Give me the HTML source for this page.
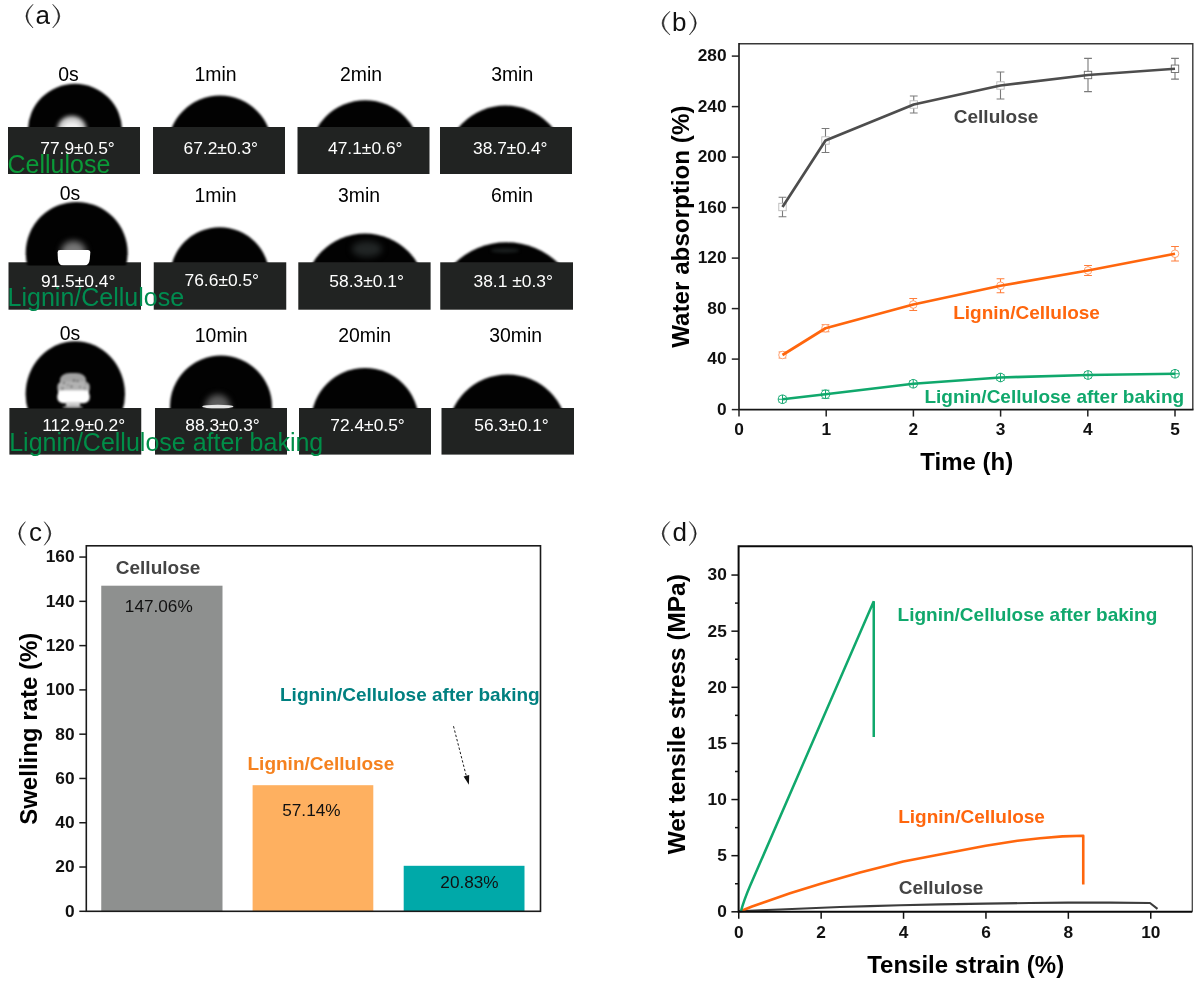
<!DOCTYPE html>
<html><head><meta charset="utf-8"><title>figure</title>
<style>
html,body{margin:0;padding:0;background:#fff;}
body{width:1200px;height:984px;overflow:hidden;font-family:"Liberation Sans",sans-serif;}
svg{display:block;}
text{font-family:"Liberation Sans",sans-serif;}
.b{font-weight:bold;}
.tk{font-weight:bold;font-size:17.3px;fill:#111;}
.ax{font-weight:bold;font-size:24px;fill:#000;}
.tl{font-size:19.4px;fill:#000;}
.vl{font-size:17.4px;fill:#fff;}
.gl{font-size:25px;}
.sl{font-weight:bold;font-size:19px;}
.pl{font-size:26px;fill:#111;}
.bv{font-size:17.2px;fill:#111;}
</style></head><body>
<svg width="1200" height="984" viewBox="0 0 1200 984">
<defs>
<filter color-interpolation-filters="sRGB" id="bl" x="-10%" y="-10%" width="120%" height="120%"><feGaussianBlur stdDeviation="1.0"/></filter>
<filter color-interpolation-filters="sRGB" id="bl06" x="-10%" y="-10%" width="120%" height="120%"><feGaussianBlur stdDeviation="0.6"/></filter>
<filter color-interpolation-filters="sRGB" id="bl1" x="-20%" y="-20%" width="140%" height="140%"><feGaussianBlur stdDeviation="0.9"/></filter>
<filter color-interpolation-filters="sRGB" id="bl25" x="-30%" y="-30%" width="160%" height="160%"><feGaussianBlur stdDeviation="2.3"/></filter>
<filter color-interpolation-filters="sRGB" id="bl2" x="-30%" y="-30%" width="160%" height="160%"><feGaussianBlur stdDeviation="1.6"/></filter>
<filter color-interpolation-filters="sRGB" id="bl3" x="-30%" y="-30%" width="160%" height="160%"><feGaussianBlur stdDeviation="3"/></filter>
<filter color-interpolation-filters="sRGB" id="soft" x="0" y="0" width="1200" height="984" filterUnits="userSpaceOnUse"><feGaussianBlur stdDeviation="0.38"/></filter>
<linearGradient id="hg" x1="0" y1="0" x2="0" y2="1"><stop offset="0" stop-color="#777"/><stop offset="1" stop-color="#fff"/></linearGradient>
</defs>
<rect x="0" y="0" width="1200" height="984" fill="#fff"/>
<g filter="url(#soft)">

<path d="M33,4.3 Q18.80,16.15 33,28 Q21.60,16.15 33,4.3 Z" fill="#1c1c1c" stroke="#1c1c1c" stroke-width="0.5" stroke-linejoin="round"/>
<path d="M52.7,4.3 Q66.90,16.15 52.7,28 Q64.10,16.15 52.7,4.3 Z" fill="#1c1c1c" stroke="#1c1c1c" stroke-width="0.5" stroke-linejoin="round"/>
<text class="pl" x="35.6" y="23.8">a</text>
<path d="M670,11.3 Q654.20,23.15 670,35 Q657.00,23.15 670,11.3 Z" fill="#1c1c1c" stroke="#1c1c1c" stroke-width="0.5" stroke-linejoin="round"/>
<path d="M689.4,11.3 Q703.20,23.15 689.4,35 Q700.40,23.15 689.4,11.3 Z" fill="#1c1c1c" stroke="#1c1c1c" stroke-width="0.5" stroke-linejoin="round"/>
<text class="pl" x="672.0" y="31.2">b</text>
<path d="M25.3,521.7 Q12.30,533.5 25.3,545.3 Q15.10,533.5 25.3,521.7 Z" fill="#1c1c1c" stroke="#1c1c1c" stroke-width="0.5" stroke-linejoin="round"/>
<path d="M44.3,521.7 Q57.30,533.5 44.3,545.3 Q54.50,533.5 44.3,521.7 Z" fill="#1c1c1c" stroke="#1c1c1c" stroke-width="0.5" stroke-linejoin="round"/>
<text class="pl" x="28.9" y="541.0">c</text>
<path d="M669.7,521.5 Q654.70,533.55 669.7,545.6 Q657.50,533.55 669.7,521.5 Z" fill="#1c1c1c" stroke="#1c1c1c" stroke-width="0.5" stroke-linejoin="round"/>
<path d="M689.4,521.5 Q703.00,533.55 689.4,545.6 Q700.20,533.55 689.4,521.5 Z" fill="#1c1c1c" stroke="#1c1c1c" stroke-width="0.5" stroke-linejoin="round"/>
<text class="pl" x="672.6" y="540.9">d</text>
<g id="panelA">
<rect x="8" y="127.0" width="132" height="47.00" fill="#212322"/>
<rect x="153" y="127.0" width="132" height="47.00" fill="#212322"/>
<rect x="297.5" y="127.0" width="132.0" height="47.00" fill="#212322"/>
<rect x="440" y="127.0" width="132" height="47.00" fill="#212322"/>
<rect x="8.5" y="262.3" width="132.5" height="47.40" fill="#212322"/>
<rect x="153.75" y="262.3" width="132.5" height="47.40" fill="#212322"/>
<rect x="298.3" y="262.3" width="132.3" height="47.40" fill="#212322"/>
<rect x="440.25" y="262.3" width="132.75" height="47.40" fill="#212322"/>
<rect x="9.4" y="408.0" width="131.85" height="46.60" fill="#212322"/>
<rect x="155" y="408.0" width="132" height="46.60" fill="#212322"/>
<rect x="299" y="408.0" width="132" height="46.60" fill="#212322"/>
<rect x="441.5" y="408.0" width="132.5" height="46.60" fill="#212322"/>
<clipPath id="cd0"><rect x="21.799999999999997" y="77.8" width="106.4" height="49.20"/></clipPath>
<g clip-path="url(#cd0)"><ellipse cx="75" cy="131" rx="47.2" ry="47.2" fill="#020202" filter="url(#bl)"/>
<ellipse cx="71.8" cy="128.5" rx="14.2" ry="12.5" fill="#d4d4d4" filter="url(#bl25)"/>
<ellipse cx="71.8" cy="127.5" rx="8" ry="5" fill="#f0f0f0" filter="url(#bl2)"/>
</g>
<clipPath id="cd1"><rect x="161.6" y="89.6" width="116.8" height="37.40"/></clipPath>
<g clip-path="url(#cd1)"><ellipse cx="220" cy="148" rx="52.4" ry="52.4" fill="#020202" filter="url(#bl)"/>
</g>
<clipPath id="cd2"><rect x="303.25" y="94.25" width="124" height="32.75"/></clipPath>
<g clip-path="url(#cd2)"><ellipse cx="365.25" cy="156.25" rx="56" ry="56" fill="#020202" filter="url(#bl)"/>
</g>
<clipPath id="cd3"><rect x="438.3" y="99.60000000000001" width="134.4" height="27.40"/></clipPath>
<g clip-path="url(#cd3)"><ellipse cx="505.5" cy="166.8" rx="61.2" ry="61.2" fill="#020202" filter="url(#bl)"/>
</g>
<clipPath id="cd4"><rect x="19.700000000000003" y="195.9" width="114" height="69.70"/></clipPath>
<g clip-path="url(#cd4)"><ellipse cx="76.7" cy="252.9" rx="51" ry="51" fill="#020202" filter="url(#bl)"/>
<clipPath id="hg4"><rect x="50" y="230" width="50" height="21.5"/></clipPath>
<g clip-path="url(#hg4)"><ellipse cx="73.5" cy="252" rx="12.5" ry="11" fill="#777" filter="url(#bl3)"/></g>
<path d="M57.6,252.4 Q57.6,250.1 60,250.1 L87.8,250.1 Q90.3,250.1 90.3,252.6 L89.8,259 Q89.2,265.6 84,265.6 L63.5,265.6 Q58.4,265.6 57.9,259 Z" fill="#fff" filter="url(#bl06)"/>
</g>
<clipPath id="cd5"><rect x="164.05" y="221.25" width="111.4" height="41.45"/></clipPath>
<g clip-path="url(#cd5)"><ellipse cx="219.75" cy="276.95" rx="49.7" ry="49.7" fill="#020202" filter="url(#bl)"/>
</g>
<clipPath id="cd6"><rect x="297.6" y="227.49999999999997" width="134.8" height="35.20"/></clipPath>
<g clip-path="url(#cd6)"><ellipse cx="365" cy="294.9" rx="61.4" ry="61.4" fill="#020202" filter="url(#bl)"/>
<ellipse cx="367" cy="249" rx="15" ry="8" fill="#212525" filter="url(#bl3)"/>
</g>
<clipPath id="cd7"><rect x="425.5" y="236.25" width="162" height="26.45"/></clipPath>
<g clip-path="url(#cd7)"><ellipse cx="506.5" cy="317.25" rx="75" ry="75" fill="#020202" filter="url(#bl)"/>
<ellipse cx="505" cy="250.5" rx="14" ry="2.6" fill="#181c1c" filter="url(#bl2)"/>
</g>
<clipPath id="cd8"><rect x="19.599999999999994" y="335.25" width="111.4" height="73.15"/></clipPath>
<g clip-path="url(#cd8)"><ellipse cx="75.3" cy="394.25" rx="49.7" ry="53" fill="#020202" filter="url(#bl)"/>
<g filter="url(#bl1)">
<rect x="59.8" y="373" width="26.4" height="14" rx="10" ry="7.5" fill="#a2a2a2"/>
<rect x="57.4" y="381.5" width="32.3" height="12" rx="5" ry="5" fill="#b2b2b2"/>
<rect x="57.3" y="390.6" width="32.4" height="12.6" rx="6" ry="5.5" fill="#fff"/>
<rect x="58.2" y="390.6" width="30.6" height="6" fill="#fff"/>
<rect x="66" y="402" width="14" height="4.5" fill="#cfcfcf"/>
<ellipse cx="72.7" cy="407.2" rx="10.5" ry="1.4" fill="#9a9a9a"/>
<circle cx="74" cy="380.5" r="1.1" fill="#5a5a5a"/>
<circle cx="77.5" cy="381" r="0.9" fill="#5a5a5a"/>
<circle cx="64" cy="383" r="0.9" fill="#5a5a5a"/>
<circle cx="71.5" cy="386.5" r="1.0" fill="#5a5a5a"/>
<circle cx="62.5" cy="388.5" r="0.9" fill="#5a5a5a"/>
<circle cx="80" cy="387" r="0.8" fill="#5a5a5a"/>
<circle cx="84.5" cy="388" r="0.8" fill="#5a5a5a"/>
<circle cx="68" cy="385" r="0.7" fill="#5a5a5a"/>
<circle cx="86" cy="384" r="0.7" fill="#5a5a5a"/>
</g>
</g>
<clipPath id="cd9"><rect x="164" y="349.6" width="114" height="58.80"/></clipPath>
<g clip-path="url(#cd9)"><ellipse cx="221" cy="406.6" rx="51" ry="51" fill="#020202" filter="url(#bl)"/>
<ellipse cx="217.8" cy="407" rx="12.5" ry="12.5" fill="#5c5c5c" filter="url(#bl3)"/>
<ellipse cx="217.8" cy="406.6" rx="15.6" ry="1.9" fill="#e6e6e6" filter="url(#bl06)"/>
</g>
<clipPath id="cd10"><rect x="305.2" y="362.0" width="119.6" height="46.40"/></clipPath>
<g clip-path="url(#cd10)"><ellipse cx="365" cy="421.8" rx="53.8" ry="53.8" fill="#020202" filter="url(#bl)"/>
</g>
<clipPath id="cd11"><rect x="441.3" y="368.40000000000003" width="132.4" height="40.00"/></clipPath>
<g clip-path="url(#cd11)"><ellipse cx="507.5" cy="434.6" rx="60.2" ry="60.2" fill="#020202" filter="url(#bl)"/>
</g>
<text class="tl" x="68.5" y="80.6" text-anchor="middle">0s</text>
<text class="tl" x="215.6" y="80.6" text-anchor="middle">1min</text>
<text class="tl" x="361" y="80.6" text-anchor="middle">2min</text>
<text class="tl" x="512.2" y="80.6" text-anchor="middle">3min</text>
<text class="tl" x="70" y="200.4" text-anchor="middle">0s</text>
<text class="tl" x="215.6" y="201.5" text-anchor="middle">1min</text>
<text class="tl" x="359" y="201.5" text-anchor="middle">3min</text>
<text class="tl" x="512" y="201.5" text-anchor="middle">6min</text>
<text class="tl" x="70" y="339.8" text-anchor="middle">0s</text>
<text class="tl" x="221.25" y="341.5" text-anchor="middle">10min</text>
<text class="tl" x="364.7" y="341.9" text-anchor="middle">20min</text>
<text class="tl" x="515.6" y="341.9" text-anchor="middle">30min</text>
<text class="vl" x="77.5" y="153.75" text-anchor="middle">77.9±0.5°</text>
<text class="vl" x="220.75" y="153.75" text-anchor="middle">67.2±0.3°</text>
<text class="vl" x="365.25" y="153.75" text-anchor="middle">47.1±0.6°</text>
<text class="vl" x="510.25" y="153.75" text-anchor="middle">38.7±0.4°</text>
<text class="vl" x="78.2" y="286.9" text-anchor="middle">91.5±0.4°</text>
<text class="vl" x="221.8" y="286" text-anchor="middle">76.6±0.5°</text>
<text class="vl" x="366.6" y="286.6" text-anchor="middle">58.3±0.1°</text>
<text class="vl" x="513.2" y="286.6" text-anchor="middle">38.1 ±0.3°</text>
<text class="vl" x="83.7" y="430.6" text-anchor="middle">112.9±0.2°</text>
<text class="vl" x="222.5" y="431" text-anchor="middle">88.3±0.3°</text>
<text class="vl" x="367.5" y="431" text-anchor="middle">72.4±0.5°</text>
<text class="vl" x="511.5" y="431" text-anchor="middle">56.3±0.1°</text>
<text class="gl" x="7.5" y="173.4" fill="#0a9a38">Cellulose</text>
<text class="gl" x="7.6" y="305.6" fill="#008c50">Lignin/Cellulose</text>
<text class="gl" x="9.2" y="450.9" fill="#008e48">Lignin/Cellulose after baking</text>
</g>
<g id="panelB">
<path d="M739.0,43.8 H1192.8 V409.6" fill="none" stroke="#383838" stroke-width="1.4"/>
<path d="M739.0,43.099999999999994 V409.6 H1193.5" fill="none" stroke="#151515" stroke-width="1.6"/>
<line x1="731.8" y1="409.60" x2="739.0" y2="409.60" stroke="#222" stroke-width="1.5"/>
<text class="tk" x="726.6" y="414.95" text-anchor="end">0</text>
<line x1="731.8" y1="359.10" x2="739.0" y2="359.10" stroke="#222" stroke-width="1.5"/>
<text class="tk" x="726.6" y="364.45" text-anchor="end">40</text>
<line x1="731.8" y1="308.60" x2="739.0" y2="308.60" stroke="#222" stroke-width="1.5"/>
<text class="tk" x="726.6" y="313.95" text-anchor="end">80</text>
<line x1="731.8" y1="258.10" x2="739.0" y2="258.10" stroke="#222" stroke-width="1.5"/>
<text class="tk" x="726.6" y="263.45" text-anchor="end">120</text>
<line x1="731.8" y1="207.60" x2="739.0" y2="207.60" stroke="#222" stroke-width="1.5"/>
<text class="tk" x="726.6" y="212.95" text-anchor="end">160</text>
<line x1="731.8" y1="157.10" x2="739.0" y2="157.10" stroke="#222" stroke-width="1.5"/>
<text class="tk" x="726.6" y="162.45" text-anchor="end">200</text>
<line x1="731.8" y1="106.60" x2="739.0" y2="106.60" stroke="#222" stroke-width="1.5"/>
<text class="tk" x="726.6" y="111.95" text-anchor="end">240</text>
<line x1="731.8" y1="56.10" x2="739.0" y2="56.10" stroke="#222" stroke-width="1.5"/>
<text class="tk" x="726.6" y="61.45" text-anchor="end">280</text>
<line x1="739.00" y1="409.6" x2="739.00" y2="416.6" stroke="#222" stroke-width="1.5"/>
<text class="tk" x="739.00" y="434.9" text-anchor="middle">0</text>
<line x1="826.20" y1="409.6" x2="826.20" y2="416.6" stroke="#222" stroke-width="1.5"/>
<text class="tk" x="826.20" y="434.9" text-anchor="middle">1</text>
<line x1="913.40" y1="409.6" x2="913.40" y2="416.6" stroke="#222" stroke-width="1.5"/>
<text class="tk" x="913.40" y="434.9" text-anchor="middle">2</text>
<line x1="1000.60" y1="409.6" x2="1000.60" y2="416.6" stroke="#222" stroke-width="1.5"/>
<text class="tk" x="1000.60" y="434.9" text-anchor="middle">3</text>
<line x1="1087.80" y1="409.6" x2="1087.80" y2="416.6" stroke="#222" stroke-width="1.5"/>
<text class="tk" x="1087.80" y="434.9" text-anchor="middle">4</text>
<line x1="1175.00" y1="409.6" x2="1175.00" y2="416.6" stroke="#222" stroke-width="1.5"/>
<text class="tk" x="1175.00" y="434.9" text-anchor="middle">5</text>
<text class="ax" x="966.8" y="470" text-anchor="middle">Time (h)</text>
<text class="ax" style="font-size:24.2px" transform="translate(688.5,226.7) rotate(-90)" text-anchor="middle">Water absorption (%)</text>
<path d="M782.5,197.25 V216.75 M778.6,197.25 H786.4 M778.6,216.75 H786.4" fill="none" stroke="#7a7a7a" stroke-width="1.1"/>
<rect x="778.8" y="203.3" width="7.4" height="7.4" fill="#fff" stroke="#b8b8b8" stroke-width="0.9"/>
<path d="M825.5,128.5 V152.5 M821.6,128.5 H829.4 M821.6,152.5 H829.4" fill="none" stroke="#7a7a7a" stroke-width="1.1"/>
<rect x="821.8" y="136.8" width="7.4" height="7.4" fill="#fff" stroke="#b8b8b8" stroke-width="0.9"/>
<path d="M913.75,96.0 V113.0 M909.85,96.0 H917.65 M909.85,113.0 H917.65" fill="none" stroke="#7a7a7a" stroke-width="1.1"/>
<rect x="910.05" y="100.8" width="7.4" height="7.4" fill="#fff" stroke="#b8b8b8" stroke-width="0.9"/>
<path d="M1000.5,72.0 V99.0 M996.6,72.0 H1004.4 M996.6,99.0 H1004.4" fill="none" stroke="#7a7a7a" stroke-width="1.1"/>
<rect x="996.8" y="81.8" width="7.4" height="7.4" fill="#fff" stroke="#b8b8b8" stroke-width="0.9"/>
<path d="M1088,58.4 V91.6 M1084.1,58.4 H1091.9 M1084.1,91.6 H1091.9" fill="none" stroke="#7a7a7a" stroke-width="1.1"/>
<rect x="1084.3" y="71.3" width="7.4" height="7.4" fill="#fff" stroke="#6a6a6a" stroke-width="0.9"/>
<path d="M1175,58.35 V79.15 M1171.1,58.35 H1178.9 M1171.1,79.15 H1178.9" fill="none" stroke="#7a7a7a" stroke-width="1.1"/>
<rect x="1171.3" y="65.05" width="7.4" height="7.4" fill="#fff" stroke="#6a6a6a" stroke-width="0.9"/>
<path d="M782.5,207 L825.5,140.5 L913.75,104.5 L1000.5,85.5 L1088,75 L1175,68.75" fill="none" stroke="#4d4d4d" stroke-width="2.7" stroke-linejoin="round"/>
<path d="M782.5,352 V358 M778.6,352 H786.4 M778.6,358 H786.4" fill="none" stroke="#ff7d3a" stroke-width="1.1"/>
<circle cx="782.5" cy="355" r="3.8" fill="#fff" stroke="#ff9a66" stroke-width="0.9"/>
<path d="M825.5,324.75 V331.75 M821.6,324.75 H829.4 M821.6,331.75 H829.4" fill="none" stroke="#ff7d3a" stroke-width="1.1"/>
<circle cx="825.5" cy="328.25" r="3.8" fill="#fff" stroke="#ff9a66" stroke-width="0.9"/>
<path d="M913.25,298.5 V310.5 M909.35,298.5 H917.15 M909.35,310.5 H917.15" fill="none" stroke="#ff7d3a" stroke-width="1.1"/>
<circle cx="913.25" cy="304.5" r="3.8" fill="#fff" stroke="#ff9a66" stroke-width="0.9"/>
<path d="M1000.5,278.75 V292.75 M996.6,278.75 H1004.4 M996.6,292.75 H1004.4" fill="none" stroke="#ff7d3a" stroke-width="1.1"/>
<circle cx="1000.5" cy="285.75" r="3.8" fill="#fff" stroke="#ff9a66" stroke-width="0.9"/>
<path d="M1088,265.5 V275.5 M1084.1,265.5 H1091.9 M1084.1,275.5 H1091.9" fill="none" stroke="#ff7d3a" stroke-width="1.1"/>
<circle cx="1088" cy="270.5" r="3.8" fill="#fff" stroke="#ff9a66" stroke-width="0.9"/>
<path d="M1175,246.45 V261.05 M1171.1,246.45 H1178.9 M1171.1,261.05 H1178.9" fill="none" stroke="#ff7d3a" stroke-width="1.1"/>
<circle cx="1175" cy="253.75" r="3.8" fill="#fff" stroke="#ff9a66" stroke-width="0.9"/>
<path d="M782.5,355 L825.5,328.25 L913.25,304.5 L1000.5,285.75 L1088,270.5 L1175,253.75" fill="none" stroke="#ff660d" stroke-width="2.7" stroke-linejoin="round"/>
<path d="M782.5,396.25 V402.25 M778.6,396.25 H786.4 M778.6,402.25 H786.4" fill="none" stroke="#16a872" stroke-width="1.1"/>
<circle cx="782.5" cy="399.25" r="4.3" fill="#fff" stroke="#16a872" stroke-width="1"/>
<path d="M778.2,399.25 H786.8 M782.5,394.95 V403.55" fill="none" stroke="#16a872" stroke-width="1"/>
<path d="M825.5,390.25 V398.25 M821.6,390.25 H829.4 M821.6,398.25 H829.4" fill="none" stroke="#16a872" stroke-width="1.1"/>
<circle cx="825.5" cy="394.25" r="4.3" fill="#fff" stroke="#16a872" stroke-width="1"/>
<path d="M821.2,394.25 H829.8 M825.5,389.95 V398.55" fill="none" stroke="#16a872" stroke-width="1"/>
<path d="M913.25,380.75 V386.75 M909.35,380.75 H917.15 M909.35,386.75 H917.15" fill="none" stroke="#16a872" stroke-width="1.1"/>
<circle cx="913.25" cy="383.75" r="4.3" fill="#fff" stroke="#16a872" stroke-width="1"/>
<path d="M908.95,383.75 H917.55 M913.25,379.45 V388.05" fill="none" stroke="#16a872" stroke-width="1"/>
<path d="M1000.5,374.5 V380.5 M996.6,374.5 H1004.4 M996.6,380.5 H1004.4" fill="none" stroke="#16a872" stroke-width="1.1"/>
<circle cx="1000.5" cy="377.5" r="4.3" fill="#fff" stroke="#16a872" stroke-width="1"/>
<path d="M996.2,377.5 H1004.8 M1000.5,373.2 V381.8" fill="none" stroke="#16a872" stroke-width="1"/>
<path d="M1088,372 V378 M1084.1,372 H1091.9 M1084.1,378 H1091.9" fill="none" stroke="#16a872" stroke-width="1.1"/>
<circle cx="1088" cy="375" r="4.3" fill="#fff" stroke="#16a872" stroke-width="1"/>
<path d="M1083.7,375 H1092.3 M1088,370.7 V379.3" fill="none" stroke="#16a872" stroke-width="1"/>
<path d="M1175,370.75 V376.75 M1171.1,370.75 H1178.9 M1171.1,376.75 H1178.9" fill="none" stroke="#16a872" stroke-width="1.1"/>
<circle cx="1175" cy="373.75" r="4.3" fill="#fff" stroke="#16a872" stroke-width="1"/>
<path d="M1170.7,373.75 H1179.3 M1175,369.45 V378.05" fill="none" stroke="#16a872" stroke-width="1"/>
<path d="M782.5,399.25 L825.5,394.25 L913.25,383.75 L1000.5,377.5 L1088,375 L1175,373.75" fill="none" stroke="#10a86c" stroke-width="2.7" stroke-linejoin="round"/>
<text class="sl" x="953.8" y="122.5" fill="#444">Cellulose</text>
<text class="sl" x="953.2" y="318.8" fill="#ff660d">Lignin/Cellulose</text>
<text class="sl" x="924.4" y="402.5" fill="#10a86c">Lignin/Cellulose after baking</text>
</g>
<g id="panelC">
<rect x="101.25" y="585.7" width="121.25" height="325.60" fill="#8e908f"/>
<rect x="252.6" y="785.2" width="120.7" height="126.10" fill="#feb060"/>
<rect x="403.7" y="865.8" width="120.8" height="45.50" fill="#00a9a9"/>
<rect x="86.3" y="545.8" width="454.20" height="365.50" fill="none" stroke="#1a1a1a" stroke-width="1.6"/>
<line x1="79.3" y1="911.30" x2="86.3" y2="911.30" stroke="#1a1a1a" stroke-width="1.5"/>
<text class="tk" x="74.6" y="916.65" text-anchor="end">0</text>
<line x1="79.3" y1="867.02" x2="86.3" y2="867.02" stroke="#1a1a1a" stroke-width="1.5"/>
<text class="tk" x="74.6" y="872.37" text-anchor="end">20</text>
<line x1="79.3" y1="822.74" x2="86.3" y2="822.74" stroke="#1a1a1a" stroke-width="1.5"/>
<text class="tk" x="74.6" y="828.09" text-anchor="end">40</text>
<line x1="79.3" y1="778.46" x2="86.3" y2="778.46" stroke="#1a1a1a" stroke-width="1.5"/>
<text class="tk" x="74.6" y="783.81" text-anchor="end">60</text>
<line x1="79.3" y1="734.18" x2="86.3" y2="734.18" stroke="#1a1a1a" stroke-width="1.5"/>
<text class="tk" x="74.6" y="739.53" text-anchor="end">80</text>
<line x1="79.3" y1="689.90" x2="86.3" y2="689.90" stroke="#1a1a1a" stroke-width="1.5"/>
<text class="tk" x="74.6" y="695.25" text-anchor="end">100</text>
<line x1="79.3" y1="645.62" x2="86.3" y2="645.62" stroke="#1a1a1a" stroke-width="1.5"/>
<text class="tk" x="74.6" y="650.97" text-anchor="end">120</text>
<line x1="79.3" y1="601.34" x2="86.3" y2="601.34" stroke="#1a1a1a" stroke-width="1.5"/>
<text class="tk" x="74.6" y="606.69" text-anchor="end">140</text>
<line x1="79.3" y1="557.06" x2="86.3" y2="557.06" stroke="#1a1a1a" stroke-width="1.5"/>
<text class="tk" x="74.6" y="562.41" text-anchor="end">160</text>
<text class="ax" transform="translate(37,728.8) rotate(-90)" text-anchor="middle">Swelling rate (%)</text>
<text class="sl" x="115.8" y="573.8" fill="#444">Cellulose</text>
<text class="bv" x="158.8" y="612" text-anchor="middle">147.06%</text>
<text class="sl" x="247.5" y="770" fill="#f5821f">Lignin/Cellulose</text>
<text class="bv" x="311.4" y="815.9" text-anchor="middle">57.14%</text>
<text class="sl" x="280" y="700.5" fill="#008080">Lignin/Cellulose after baking</text>
<text class="bv" x="469.5" y="887.7" text-anchor="middle">20.83%</text>
<path d="M453.5,726.2 L466.6,777.2" fill="none" stroke="#111" stroke-width="0.95" stroke-dasharray="2.4,2.0"/>
<path d="M468.9,784.8 L463.6,776.6 L469.2,775.1 Z" fill="#111"/>
</g>
<g id="panelD">
<path d="M739,911.3 L760,910.3 L780,909.5 L810,908.2 L840,907 L870,906.1 L900,905.3 L940,904.4 L985,903.6 L1030,903 L1068,902.6 L1110,902.6 L1150,903 L1157.5,908.8" fill="none" stroke="#3c3c3c" stroke-width="2.1" stroke-linejoin="round"/>
<path d="M741,911 L752,906.5 L765,902 L790,893.25 L820.75,883.75 L860,872.5 L903.25,861.5 L945,853.5 L985.75,845.75 L1017.5,840.75 L1040,838.2 L1062.5,836.4 L1083.25,835.8 L1083.25,884.5" fill="none" stroke="#ff660d" stroke-width="2.6" stroke-linejoin="round"/>
<path d="M741,911 Q744,900 750,886 L873.75,601.3 L873.75,737" fill="none" stroke="#10a86c" stroke-width="2.5" stroke-linejoin="miter"/>
<path d="M1192.3,546.3 V911.8" fill="none" stroke="#444" stroke-width="1.3"/>
<path d="M1192.3,546.3 H738.6 V911.8 H1192.3" fill="none" stroke="#0a0a0a" stroke-width="2"/>
<line x1="731.4" y1="911.80" x2="738.6" y2="911.80" stroke="#111" stroke-width="1.5"/>
<text class="tk" x="726.8" y="917.15" text-anchor="end">0</text>
<line x1="735.0" y1="883.74" x2="738.6" y2="883.74" stroke="#111" stroke-width="1.5"/>
<line x1="731.4" y1="855.67" x2="738.6" y2="855.67" stroke="#111" stroke-width="1.5"/>
<text class="tk" x="726.8" y="861.02" text-anchor="end">5</text>
<line x1="735.0" y1="827.61" x2="738.6" y2="827.61" stroke="#111" stroke-width="1.5"/>
<line x1="731.4" y1="799.55" x2="738.6" y2="799.55" stroke="#111" stroke-width="1.5"/>
<text class="tk" x="726.8" y="804.90" text-anchor="end">10</text>
<line x1="735.0" y1="771.49" x2="738.6" y2="771.49" stroke="#111" stroke-width="1.5"/>
<line x1="731.4" y1="743.42" x2="738.6" y2="743.42" stroke="#111" stroke-width="1.5"/>
<text class="tk" x="726.8" y="748.77" text-anchor="end">15</text>
<line x1="735.0" y1="715.36" x2="738.6" y2="715.36" stroke="#111" stroke-width="1.5"/>
<line x1="731.4" y1="687.30" x2="738.6" y2="687.30" stroke="#111" stroke-width="1.5"/>
<text class="tk" x="726.8" y="692.65" text-anchor="end">20</text>
<line x1="735.0" y1="659.24" x2="738.6" y2="659.24" stroke="#111" stroke-width="1.5"/>
<line x1="731.4" y1="631.17" x2="738.6" y2="631.17" stroke="#111" stroke-width="1.5"/>
<text class="tk" x="726.8" y="636.52" text-anchor="end">25</text>
<line x1="735.0" y1="603.11" x2="738.6" y2="603.11" stroke="#111" stroke-width="1.5"/>
<line x1="731.4" y1="575.05" x2="738.6" y2="575.05" stroke="#111" stroke-width="1.5"/>
<text class="tk" x="726.8" y="580.40" text-anchor="end">30</text>
<line x1="738.75" y1="911.8" x2="738.75" y2="918.8" stroke="#111" stroke-width="1.5"/>
<text class="tk" x="738.75" y="937.9" text-anchor="middle">0</text>
<line x1="821.15" y1="911.8" x2="821.15" y2="918.8" stroke="#111" stroke-width="1.5"/>
<text class="tk" x="821.15" y="937.9" text-anchor="middle">2</text>
<line x1="903.55" y1="911.8" x2="903.55" y2="918.8" stroke="#111" stroke-width="1.5"/>
<text class="tk" x="903.55" y="937.9" text-anchor="middle">4</text>
<line x1="985.95" y1="911.8" x2="985.95" y2="918.8" stroke="#111" stroke-width="1.5"/>
<text class="tk" x="985.95" y="937.9" text-anchor="middle">6</text>
<line x1="1068.35" y1="911.8" x2="1068.35" y2="918.8" stroke="#111" stroke-width="1.5"/>
<text class="tk" x="1068.35" y="937.9" text-anchor="middle">8</text>
<line x1="1150.75" y1="911.8" x2="1150.75" y2="918.8" stroke="#111" stroke-width="1.5"/>
<text class="tk" x="1150.75" y="937.9" text-anchor="middle">10</text>
<text class="ax" x="965.7" y="972.6" text-anchor="middle">Tensile strain (%)</text>
<text class="ax" style="font-size:24.4px" transform="translate(685.4,714.3) rotate(-90)" text-anchor="middle">Wet tensile stress (MPa)</text>
<text class="sl" x="897.6" y="621.3" fill="#10a86c">Lignin/Cellulose after baking</text>
<text class="sl" x="898.2" y="823.3" fill="#ff660d">Lignin/Cellulose</text>
<text class="sl" x="898.8" y="893.8" fill="#444">Cellulose</text>
</g>
</g>
</svg>
</body></html>
